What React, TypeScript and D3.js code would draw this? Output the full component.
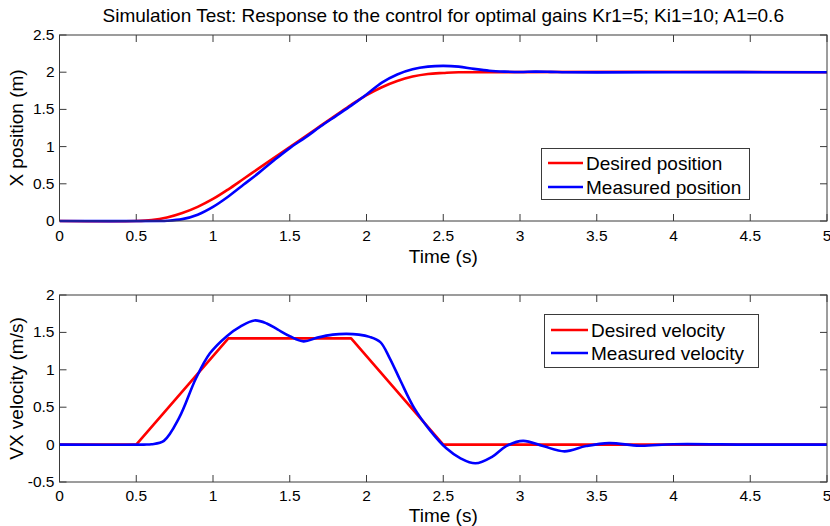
import React from "react";
import * as d3 from "d3";

const TITLE = "Simulation Test: Response to the control for optimal gains Kr1=5; Ki1=10; A1=0.6";
const X_LABEL = "Time (s)";
const Y_LABEL_TOP = "X position (m)";
const Y_LABEL_BOTTOM = "VX velocity (m/s)";
const LEGEND_TOP = ["Desired position", "Measured position"];
const LEGEND_BOTTOM = ["Desired velocity", "Measured velocity"];

const xTicks = [0, 0.5, 1, 1.5, 2, 2.5, 3, 3.5, 4, 4.5, 5];
const yTicksTop = [0, 0.5, 1, 1.5, 2, 2.5];
const yTicksBottom = [-0.5, 0, 0.5, 1, 1.5, 2];

// Desired position
const tPosDesired = [0, 0.5, 0.6, 0.7, 0.8, 0.9, 1.0, 1.1, 1.2, 1.3, 1.4, 1.5, 1.6, 1.7, 1.8, 1.9, 2.0, 2.1, 2.2, 2.3, 2.4, 2.5, 2.6, 5];
const posDesired = [0, 0, 0.012, 0.047, 0.107, 0.19, 0.296, 0.426, 0.568, 0.71, 0.852, 0.994, 1.136, 1.278, 1.42, 1.562, 1.692, 1.798, 1.882, 1.941, 1.976, 1.99, 2.0, 2.0];

// Measured position
const tPosMeasured = [0, 0.65, 0.7, 0.8, 0.9, 1.0, 1.1, 1.2, 1.3, 1.4, 1.5, 1.6, 1.7, 1.8, 1.9, 2.0, 2.1, 2.2, 2.3, 2.4, 2.5, 2.6, 2.7, 2.8, 2.9, 3.0, 3.1, 3.2, 3.3, 3.5, 4.0, 5];
const posMeasured = [0, 0, 0.003, 0.025, 0.085, 0.19, 0.33, 0.49, 0.65, 0.82, 0.98, 1.12, 1.27, 1.41, 1.55, 1.70, 1.86, 1.97, 2.04, 2.075, 2.085, 2.075, 2.045, 2.02, 2.008, 2.003, 2.008, 2.005, 2.0, 1.997, 2.0, 2.0];

// Desired velocity
const tVelDesired = [0, 0.5, 1.1, 1.9, 2.5, 5];
const velDesired = [0, 0, 1.42, 1.42, 0, 0];

// Measured velocity
const tVelMeasured = [0, 0.55, 0.6, 0.68, 0.78, 0.89, 0.98, 1.09, 1.18, 1.27, 1.35, 1.42, 1.5, 1.59, 1.68, 1.78, 1.87, 1.95, 2.02, 2.09, 2.15, 2.22, 2.31, 2.41, 2.52, 2.61, 2.71, 2.82, 2.91, 3.02, 3.15, 3.29, 3.43, 3.58, 3.78, 4.0, 4.5, 5];
const velMeasured = [0, 0, 0.005, 0.05, 0.36, 0.89, 1.22, 1.45, 1.58, 1.66, 1.62, 1.54, 1.45, 1.38, 1.43, 1.47, 1.48, 1.47, 1.44, 1.37, 1.16, 0.86, 0.49, 0.2, -0.05, -0.18, -0.25, -0.16, -0.02, 0.05, -0.02, -0.09, -0.02, 0.02, -0.015, 0.005, 0, 0];

const W = 830;
const H = 526;
const LEFT = 59.5;
const RIGHT = 827;
const FONT = "Liberation Sans, Arial, sans-serif";
const AXIS_COLOR = "#3a3a3a";

type Pt = [number, number];
const zip = (a: number[], b: number[]): Pt[] => a.map((v, i) => [v, b[i]]);

interface PanelProps {
  top: number;
  bottom: number;
  yDomain: [number, number];
  yTicks: number[];
  yLabel: string;
  yLabelX: number;
  series: { data: Pt[]; color: string; smooth: boolean }[];
  legend: string[];
  legendBox: { x: number; y: number; w: number; h: number; lineX1: number; lineX2: number; textX: number; rows: number[] };
  tickLabelY: number;
  xLabelY: number;
}

function Panel(p: PanelProps) {
  const x = d3.scaleLinear().domain([0, 5]).range([LEFT, RIGHT]);
  const y = d3.scaleLinear().domain(p.yDomain).range([p.bottom, p.top]);
  const TL = 7;
  const mk = (smooth: boolean) =>
    d3
      .line<Pt>()
      .x((d) => x(d[0]))
      .y((d) => y(d[1]))
      .curve(smooth ? d3.curveCatmullRom.alpha(0.5) : d3.curveLinear);
  const clipId = `clip-${p.top}`;
  const colors = ["#ff0000", "#0000ff"];
  return (
    <g>
      <defs>
        <clipPath id={clipId}>
          <rect x={LEFT} y={p.top - 2} width={RIGHT - LEFT} height={p.bottom - p.top + 4} />
        </clipPath>
      </defs>
      <rect x={LEFT} y={p.top} width={RIGHT - LEFT} height={p.bottom - p.top} fill="#fff" />
      {xTicks.map((t) => (
        <g key={"xt" + t}>
          <line x1={x(t)} x2={x(t)} y1={p.bottom} y2={p.bottom - TL} stroke={AXIS_COLOR} strokeWidth={1} />
          <line x1={x(t)} x2={x(t)} y1={p.top} y2={p.top + TL} stroke={AXIS_COLOR} strokeWidth={1} />
          <text x={x(t)} y={p.tickLabelY} textAnchor="middle" fontSize={15.5} fontFamily={FONT} fill="#000">
            {t}
          </text>
        </g>
      ))}
      {p.yTicks.map((t) => (
        <g key={"yt" + t}>
          <line x1={LEFT} x2={LEFT + TL} y1={y(t)} y2={y(t)} stroke={AXIS_COLOR} strokeWidth={1} />
          <line x1={RIGHT} x2={RIGHT - TL} y1={y(t)} y2={y(t)} stroke={AXIS_COLOR} strokeWidth={1} />
          <text x={LEFT - 5} y={y(t) + 5} textAnchor="end" fontSize={15.5} fontFamily={FONT} fill="#000">
            {t}
          </text>
        </g>
      ))}
      <g clipPath={`url(#${clipId})`}>
        {p.series.map((s, i) => (
          <path key={i} d={mk(s.smooth)(s.data) || ""} fill="none" stroke={s.color} strokeWidth={2.6} strokeLinejoin="round" />
        ))}
      </g>
      <rect x={LEFT} y={p.top} width={RIGHT - LEFT} height={p.bottom - p.top} fill="none" stroke={AXIS_COLOR} strokeWidth={1} />
      <text x={(LEFT + RIGHT) / 2} y={p.xLabelY} textAnchor="middle" fontSize={19} fontFamily={FONT} fill="#000">
        {X_LABEL}
      </text>
      <text
        transform={`translate(${p.yLabelX},${(p.top + p.bottom) / 2}) rotate(-90)`}
        textAnchor="middle"
        fontSize={19}
        fontFamily={FONT}
        fill="#000"
      >
        {p.yLabel}
      </text>
      <rect x={p.legendBox.x} y={p.legendBox.y} width={p.legendBox.w} height={p.legendBox.h} fill="#fff" stroke={AXIS_COLOR} strokeWidth={1} />
      {p.legend.map((name, i) => (
        <g key={name}>
          <line x1={p.legendBox.lineX1} x2={p.legendBox.lineX2} y1={p.legendBox.rows[i]} y2={p.legendBox.rows[i]} stroke={colors[i]} strokeWidth={2.6} />
          <text x={p.legendBox.textX} y={p.legendBox.rows[i] + 7} fontSize={19} fontFamily={FONT} fill="#000">
            {name}
          </text>
        </g>
      ))}
    </g>
  );
}

export default function App() {
  return (
    <svg width={W} height={H} style={{ position: "absolute", left: 0, top: 0, background: "#fff" }}>
      <rect x={0} y={0} width={W} height={H} fill="#fff" />
      <text x={(LEFT + RIGHT) / 2} y={22} textAnchor="middle" fontSize={19} fontFamily={FONT} fill="#000">
        {TITLE}
      </text>
      <Panel
        top={35}
        bottom={221}
        yDomain={[0, 2.5]}
        yTicks={yTicksTop}
        yLabel={Y_LABEL_TOP}
        yLabelX={23}
        series={[
          { data: zip(tPosDesired, posDesired), color: "#ff0000", smooth: true },
          { data: zip(tPosMeasured, posMeasured), color: "#0000ff", smooth: true },
        ]}
        legend={LEGEND_TOP}
        legendBox={{ x: 541.5, y: 148.5, w: 208, h: 51, lineX1: 548, lineX2: 583, textX: 586, rows: [163, 187] }}
        tickLabelY={240.5}
        xLabelY={263}
      />
      <Panel
        top={295}
        bottom={482}
        yDomain={[-0.5, 2]}
        yTicks={yTicksBottom}
        yLabel={Y_LABEL_BOTTOM}
        yLabelX={23}
        series={[
          { data: zip(tVelDesired, velDesired), color: "#ff0000", smooth: false },
          { data: zip(tVelMeasured, velMeasured), color: "#0000ff", smooth: true },
        ]}
        legend={LEGEND_BOTTOM}
        legendBox={{ x: 544.5, y: 314.5, w: 214, h: 53, lineX1: 551, lineX2: 588, textX: 591, rows: [330, 353] }}
        tickLabelY={500.5}
        xLabelY={521.5}
      />
    </svg>
  );
}
